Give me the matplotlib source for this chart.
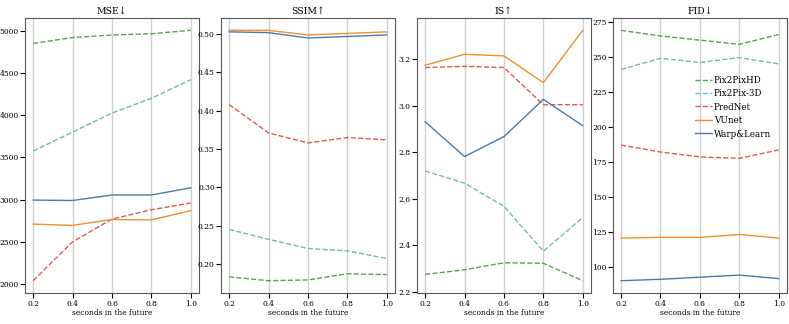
import matplotlib.pyplot as plt

plt.rcParams['font.family'] = ['DejaVu Serif']
plt.rcParams['font.stretch'] = 'condensed'

seconds = [0.2, 0.4, 0.6, 0.8, 1.0]
methods = ["Pix2PixHD", "Pix2Pix-3D", "PredNet", "VUnet", "Warp&Learn"]
colors = ["#59a14f", "#76b7b2", "#e15759", "#f28e2b", "#4e79a7"]
styles = ["--", "--", "--", "-", "-"]

mse = {
    "Pix2PixHD": [4850, 4920, 4950, 4965, 5005],
    "Pix2Pix-3D": [3575, 3800, 4025, 4200, 4420],
    "PredNet": [2040, 2500, 2770, 2880, 2960],
    "VUnet": [2710, 2695, 2765, 2760, 2870],
    "Warp&Learn": [2995, 2990, 3055, 3055, 3140],
}
ssim = {
    "Pix2PixHD": [0.183, 0.178, 0.179, 0.187, 0.186],
    "Pix2Pix-3D": [0.245, 0.232, 0.220, 0.217, 0.207],
    "PredNet": [0.408, 0.371, 0.358, 0.365, 0.362],
    "VUnet": [0.505, 0.505, 0.499, 0.501, 0.503],
    "Warp&Learn": [0.503, 0.502, 0.495, 0.497, 0.499],
}
inception = {
    "Pix2PixHD": [2.275, 2.295, 2.325, 2.323, 2.248],
    "Pix2Pix-3D": [2.720, 2.668, 2.568, 2.375, 2.520],
    "PredNet": [3.165, 3.170, 3.165, 3.005, 3.005],
    "VUnet": [3.175, 3.222, 3.215, 3.100, 3.325],
    "Warp&Learn": [2.932, 2.782, 2.868, 3.028, 2.915],
}
fid = {
    "Pix2PixHD": [269, 265, 262, 259, 266],
    "Pix2Pix-3D": [241, 249, 246, 249.5, 245],
    "PredNet": [187, 182, 178.5, 177.5, 183.5],
    "VUnet": [120.5, 121, 121, 123, 120.5],
    "Warp&Learn": [90, 91, 92.5, 94, 91.5],
}

panels = [("MSE\u2193", mse), ("SSIM\u2191", ssim), ("IS\u2191", inception), ("FID\u2193", fid)]

fig, axes = plt.subplots(1, 4, figsize=(7.89, 3.24), dpi=100)
fig.subplots_adjust(left=0.032, right=0.997, top=0.945, bottom=0.095, wspace=0.13)

for ax, (title, data) in zip(axes, panels):
    for m, c, ls in zip(methods, colors, styles):
        ax.plot(seconds, data[m], ls, color=c, lw=1.0, label=m)
    ax.set_title(title, fontsize=7.5, pad=3)
    ax.set_xlabel("seconds in the future", fontsize=6, labelpad=1)
    ax.set_xticks(seconds)
    ax.tick_params(labelsize=6, length=3.5, pad=1.2)
    ax.grid(axis="x", color="#d0d0d0", lw=1)
    ax.set_axisbelow(True)
    for s in ax.spines.values():
        s.set_color("#555555")

axes[3].legend(loc="center left", bbox_to_anchor=(0.47, 0.675), frameon=False,
               borderpad=0, borderaxespad=0,
               fontsize=7, handlelength=1.8, handletextpad=0.15, labelspacing=0.45)

plt.savefig("out.png")
